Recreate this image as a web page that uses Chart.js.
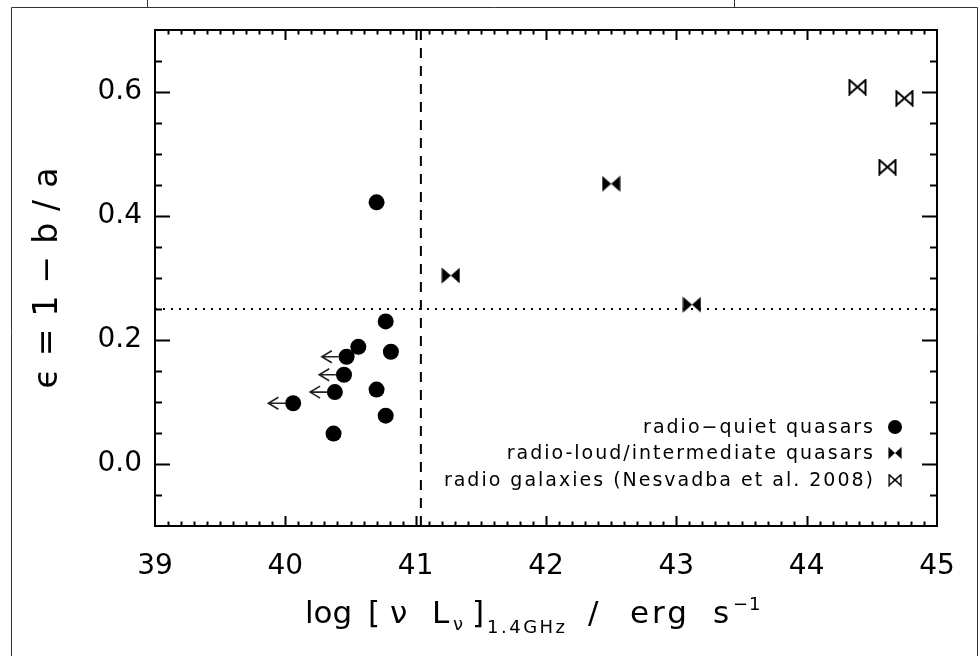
<!DOCTYPE html>
<html>
<head>
<meta charset="utf-8">
<title>Ellipticity vs radio luminosity</title>
<script src="https://cdn.jsdelivr.net/npm/chart.js@4.4.0/dist/chart.umd.min.js"></script>
<style>
  html, body { margin: 0; padding: 0; background: #fff; }
  #wrap { width: 980px; height: 656px; }
</style>
</head>
<body>
<div id="wrap"><canvas id="ellipChart" width="980" height="656"></canvas></div>
<script>
// radio-quiet quasars (filled circles); quietLimit marks luminosity upper limits
const quietLum = [40.70, 40.77, 40.56, 40.81, 40.47, 40.45, 40.38, 40.70, 40.06, 40.77, 40.37];
const quietEps = [0.422, 0.230, 0.189, 0.181, 0.173, 0.144, 0.116, 0.120, 0.098, 0.078, 0.049];
const quietLimit = [false, false, false, false, true, true, true, false, true, false, false];

// radio-loud / intermediate quasars
const loudLum = [41.27, 42.50, 43.12];
const loudEps = [0.304, 0.452, 0.257];

// radio galaxies (Nesvadba et al. 2008)
const galLum = [44.39, 44.75, 44.62];
const galEps = [0.608, 0.590, 0.479];

const xTickValues = [39, 40, 41, 42, 43, 44, 45];
const yTickValues = [0.0, 0.2, 0.4, 0.6];
const xRange = [39, 45];
const yRange = [-0.1, 0.7];
const lumCut = [41.04];
const epsCut = [0.25];
const seriesLabels = ['radio\u2212quiet quasars', 'radio-loud/intermediate quasars', 'radio galaxies (Nesvadba et al. 2008)'];

const FONT = "'DejaVu Sans', sans-serif";

function toPoints(xs, ys) {
  return xs.map((x, i) => ({ x: x, y: ys[i] }));
}

// bow-tie markers, filled (radio-loud) and open (radio galaxies)
function makeBowtie(w, h, filled) {
  const c = document.createElement('canvas');
  c.width = w; c.height = h;
  const g = c.getContext('2d');
  const p = filled ? 0.5 : 1.5;
  g.beginPath();
  g.moveTo(p, p); g.lineTo(w / 2, h / 2); g.lineTo(p, h - p); g.closePath();
  g.moveTo(w - p, p); g.lineTo(w / 2, h / 2); g.lineTo(w - p, h - p); g.closePath();
  if (filled) { g.fillStyle = '#000'; g.fill(); }
  else { g.lineWidth = 2; g.strokeStyle = '#000'; g.lineJoin = 'miter'; g.stroke(); }
  return c;
}
const bowFilled = makeBowtie(19, 17, true);
const bowOpen = makeBowtie(19, 17, false);

// page frame lines behind the figure
const pageFrame = {
  id: 'pageFrame',
  beforeDraw(chart) {
    const ctx = chart.ctx;
    ctx.save();
    ctx.fillStyle = '#fff';
    ctx.fillRect(0, 0, chart.width, chart.height);
    ctx.strokeStyle = '#333';
    ctx.lineWidth = 1;
    ctx.beginPath();
    ctx.moveTo(11.5, chart.height); ctx.lineTo(11.5, 7.5); ctx.lineTo(977.5, 7.5); ctx.lineTo(977.5, chart.height);
    ctx.moveTo(147.5, 0); ctx.lineTo(147.5, 7.5);
    ctx.moveTo(734.5, 0); ctx.lineTo(734.5, 7.5);
    ctx.stroke();
    ctx.restore();
  }
};

// leftward arrows for the upper limits
const limitArrows = {
  id: 'limitArrows',
  afterDatasetsDraw(chart) {
    const { ctx, scales: { x, y } } = chart;
    ctx.save();
    ctx.strokeStyle = '#222';
    ctx.lineWidth = 1.6;
    quietLimit.forEach((lim, i) => {
      if (!lim) return;
      const px = x.getPixelForValue(quietLum[i]);
      const py = y.getPixelForValue(quietEps[i]);
      const tip = x.getPixelForValue(quietLum[i] - 0.19);
      ctx.beginPath();
      ctx.moveTo(px - 8, py); ctx.lineTo(tip, py);
      ctx.moveTo(tip + 10, py - 6); ctx.lineTo(tip, py); ctx.lineTo(tip + 10, py + 6);
      ctx.stroke();
    });
    ctx.restore();
  }
};

// box, inward ticks, legend and axis titles
const axesDecor = {
  id: 'axesDecor',
  afterDraw(chart) {
    const { ctx, chartArea: a, scales: { x, y } } = chart;
    ctx.save();
    ctx.strokeStyle = '#000';
    ctx.lineWidth = 2;
    ctx.strokeRect(a.left, a.top, a.right - a.left, a.bottom - a.top);

    ctx.beginPath();
    for (let k = 1; k < 60; k++) {
      const v = xRange[0] + k * 0.1;
      const px = Math.round(x.getPixelForValue(v)) + 0.5;
      const len = (k % 10 === 0) ? 10 : 4.5;
      ctx.moveTo(px, a.bottom); ctx.lineTo(px, a.bottom - len);
      ctx.moveTo(px, a.top); ctx.lineTo(px, a.top + len);
    }
    for (let k = 1; k < 16; k++) {
      const v = yRange[0] + k * 0.05;
      const py = Math.round(y.getPixelForValue(v)) + 0.5;
      const len = (k % 4 === 2) ? 15 : 7;
      ctx.moveTo(a.left, py); ctx.lineTo(a.left + len, py);
      ctx.moveTo(a.right, py); ctx.lineTo(a.right - len, py);
    }
    ctx.lineWidth = 2;
    ctx.stroke();

    // legend: text right-aligned, marker on the right
    const lx = a.right - 42, tx = a.right - 62;
    const ly = [a.bottom - 99, a.bottom - 73, a.bottom - 46];
    ctx.fillStyle = '#000';
    ctx.font = '19px ' + FONT;
    ctx.textAlign = 'right';
    ctx.textBaseline = 'middle';
    ctx.letterSpacing = '2px';
    seriesLabels.forEach((t, i) => ctx.fillText(t, tx, ly[i] + 1));
    ctx.letterSpacing = '0px';
    ctx.beginPath();
    ctx.arc(lx, ly[0], 7, 0, Math.PI * 2);
    ctx.fill();
    ctx.drawImage(bowFilled, lx - 7, ly[1] - 6.5, 14, 13);
    ctx.drawImage(bowOpen, lx - 7, ly[2] - 6.5, 14, 13);

    // y title
    ctx.save();
    ctx.translate(57, (a.top + a.bottom) / 2);
    ctx.rotate(-Math.PI / 2);
    ctx.textAlign = 'center';
    ctx.textBaseline = 'alphabetic';
    ctx.font = '33px ' + FONT;
    ctx.letterSpacing = '12px';
    ctx.fillText('\u03f5=1\u2212b/a', 6, 0);
    ctx.restore();

    // x title with sub/superscripts
    const x0 = (a.left + a.right) / 2 - 241;
    const base = a.bottom + 97;
    const main = '31px ' + FONT, small = '18px ' + FONT;
    const segs = [
      ['log', main, 0, 0, 0],
      ['[', main, 63, 0, 0],
      ['\u03bd', main, 85, 0, 0],
      ['L', main, 127, 0, 0],
      ['\u03bd', small, 148, 7, 0],
      [']', main, 167, 0, 0],
      ['1.4GHz', small, 182, 10, 2.5],
      ['/', main, 283, 0, 0],
      ['erg', main, 325, 0, 3],
      ['s', main, 408, 0, 0],
      ['\u22121', small, 428, -13, 1]
    ];
    ctx.textAlign = 'left';
    ctx.textBaseline = 'alphabetic';
    segs.forEach(s => {
      ctx.font = s[1];
      ctx.letterSpacing = s[4] + 'px';
      ctx.fillText(s[0], x0 + s[2], base + s[3]);
    });
    ctx.restore();
  }
};

const ctx = document.getElementById('ellipChart').getContext('2d');
new Chart(ctx, {
  type: 'scatter',
  data: {
    datasets: [
      {
        label: seriesLabels[0],
        data: toPoints(quietLum, quietEps),
        pointStyle: 'circle',
        pointRadius: 8,
        backgroundColor: '#000',
        borderColor: '#000',
        borderWidth: 0,
        order: 1
      },
      {
        label: seriesLabels[1],
        data: toPoints(loudLum, loudEps),
        pointStyle: bowFilled,
        order: 1
      },
      {
        label: seriesLabels[2],
        data: toPoints(galLum, galEps),
        pointStyle: bowOpen,
        order: 1
      },
      {
        label: 'luminosity cut',
        data: [{ x: lumCut[0], y: yRange[0] }, { x: lumCut[0], y: yRange[1] }],
        showLine: true,
        borderColor: '#000',
        borderWidth: 2,
        borderDash: [10, 8],
        pointRadius: 0,
        order: 2
      },
      {
        label: 'ellipticity cut',
        data: [{ x: xRange[0], y: epsCut[0] }, { x: xRange[1], y: epsCut[0] }],
        showLine: true,
        borderColor: '#000',
        borderWidth: 2,
        borderDash: [2, 6],
        pointRadius: 0,
        order: 2
      }
    ]
  },
  options: {
    responsive: false,
    animation: false,
    events: [],
    layout: { padding: { top: 30, right: 43, left: 0, bottom: 0 } },
    plugins: {
      legend: { display: false },
      tooltip: { enabled: false }
    },
    scales: {
      x: {
        type: 'linear',
        min: xRange[0],
        max: xRange[1],
        afterBuildTicks: s => { s.ticks = xTickValues.map(v => ({ value: v })); },
        afterFit: s => { s.height = 130; },
        grid: { display: false, drawTicks: false },
        border: { display: false },
        ticks: {
          color: '#000',
          font: { family: FONT, size: 28 },
          padding: 24,
          maxRotation: 0,
          autoSkip: false,
          callback: v => String(v)
        }
      },
      y: {
        type: 'linear',
        min: yRange[0],
        max: yRange[1],
        afterBuildTicks: s => { s.ticks = yTickValues.map(v => ({ value: v })); },
        afterFit: s => { s.width = 155; },
        grid: { display: false, drawTicks: false },
        border: { display: false },
        ticks: {
          color: '#000',
          font: { family: FONT, size: 28 },
          padding: 13,
          autoSkip: false,
          callback: v => Number(v).toFixed(1)
        }
      }
    }
  },
  plugins: [pageFrame, limitArrows, axesDecor]
});
</script>
</body>
</html>
